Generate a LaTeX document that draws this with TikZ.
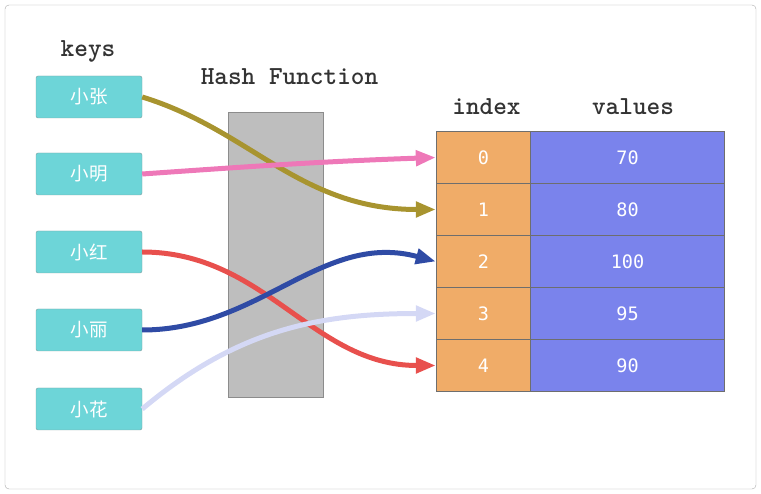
\documentclass[tikz,border=0pt]{standalone}
\usepackage{fontspec}
\newfontfamily\cjk{Noto Sans CJK SC}
\newfontfamily\digitfont{DejaVu Sans Mono}
\usetikzlibrary{arrows.meta}

\definecolor{keycyan}{HTML}{6DD5D8}
\definecolor{keyborder}{HTML}{7E9EA0}
\definecolor{idxorange}{HTML}{F0AC68}
\definecolor{valblue}{HTML}{7A83EC}
\definecolor{cellline}{HTML}{6E6E6E}
\definecolor{hashgray}{HTML}{BEBEBE}
\definecolor{hashline}{HTML}{8C8C8C}
\definecolor{framegray}{HTML}{A8A8A8}
\definecolor{headgray}{HTML}{333333}
\definecolor{oliveline}{HTML}{A8942F}
\definecolor{pinkline}{HTML}{EE78B8}
\definecolor{redline}{HTML}{E8504D}
\definecolor{navyline}{HTML}{2F4BA5}
\definecolor{lavline}{HTML}{D4D8F5}

\begin{document}
\begin{tikzpicture}[x=1pt, y=1pt,
    keybox/.style={draw=keyborder, fill=keycyan, rounded corners=2pt, inner sep=0pt,
        minimum width=106pt, minimum height=42pt, text=white,
        font=\cjk\fontsize{18.5}{18.5}\selectfont},
    idxcell/.style={draw=cellline, fill=idxorange, inner sep=0pt,
        minimum width=95pt, minimum height=52pt, text=white,
        font=\digitfont\fontsize{18.5}{18.5}\selectfont},
    valcell/.style={idxcell, fill=valblue, minimum width=194pt},
    header/.style={anchor=base, text=headgray,
        font=\ttfamily\bfseries\fontsize{26}{26}\selectfont},
    link/.style={line width=5pt, -{Triangle[length=20pt,width=15pt]}}]
    \useasboundingbox (0,0) rectangle (761,-494);

    % Cadre
    \draw[framegray, rounded corners=4pt] (5,-5) rectangle (756,-489);

    % Keys
    \node[header] (keyslabel) at (88,-57) {keys};
    \node[keybox] (zhang) at (89,-97) {小张};
    \node[keybox] (ming) at (89,-174) {小明};
    \node[keybox] (hong) at (89,-252) {小红};
    \node[keybox] (li) at (89,-330) {小丽};
    \node[keybox] (hua) at (89,-409) {小花};

    % Hash function
    \node[header] (hashlabel) at (289.5,-85) {Hash Function};
    \node[draw=hashline, fill=hashgray, minimum width=95pt, minimum height=285pt] (hash) at (275.5,-254.5) {};

    % Table index / values
    \node[header] (indexlabel) at (486.5,-115) {index};
    \node[header] (valueslabel) at (633,-115) {values};
    \node[idxcell] (i0) at (483.5,-157.5) {0};
    \node[idxcell] (i1) at (483.5,-209.5) {1};
    \node[idxcell] (i2) at (483.5,-261.5) {2};
    \node[idxcell] (i3) at (483.5,-313.5) {3};
    \node[idxcell] (i4) at (483.5,-365.5) {4};
    \node[valcell] (v0) at (627.5,-157.5) {70};
    \node[valcell] (v1) at (627.5,-209.5) {80};
    \node[valcell] (v2) at (627.5,-261.5) {100};
    \node[valcell] (v3) at (627.5,-313.5) {95};
    \node[valcell] (v4) at (627.5,-365.5) {90};

    % Fleches
    \draw[link, oliveline] (zhang.east) to[out=-17, in=180, out distance=113pt, in distance=136pt] (i1.west);
    \draw[link, pinkline] (ming.east) to[out=4, in=182] (i0.west);
    \draw[link, redline] (hong.east) to[out=0, in=180] (i4.west);
    \draw[link, navyline] (li.east) to[out=0, in=165] (i2.west);
    \draw[link, lavline] (hua.east) to[out=40, in=180] (i3.west);
\end{tikzpicture}
\end{document}
